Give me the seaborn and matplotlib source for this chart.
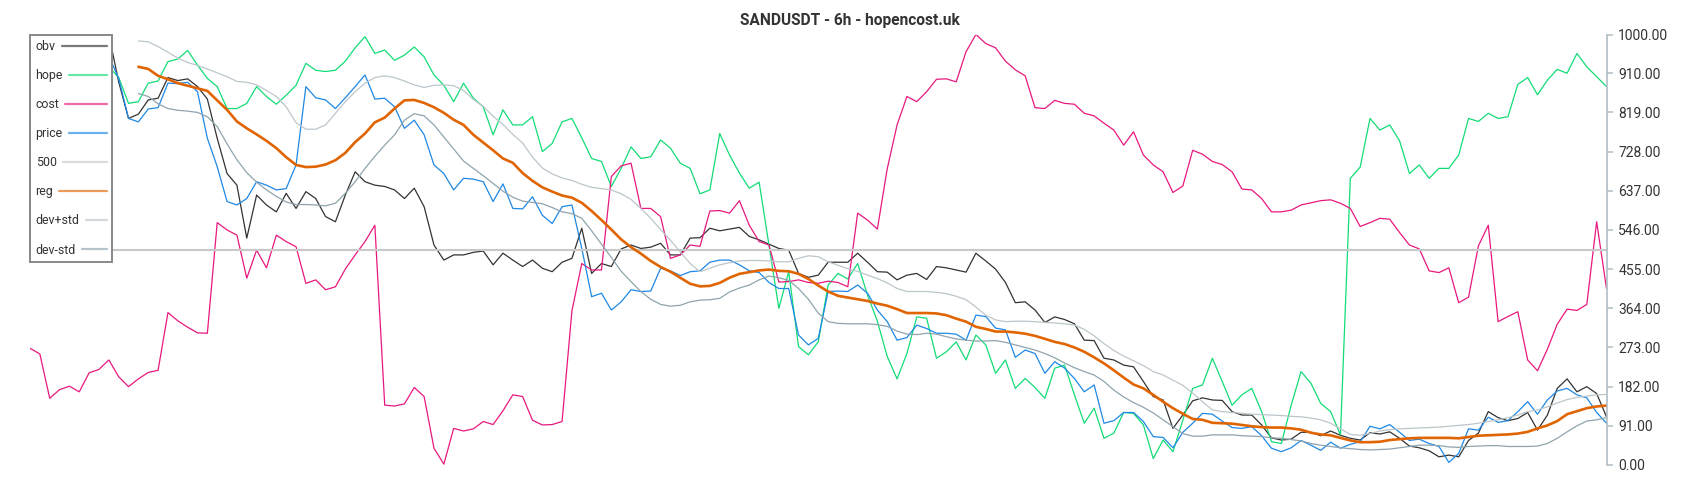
import numpy as np
import pandas as pd
import matplotlib
matplotlib.use("Agg")
import matplotlib.pyplot as plt
import seaborn as sns

# ---------------- data (normalised 0..1000, one value per step) ----------------
obv = [880, 900, 930, 915, 950, 970, 960, 985, 1000,
       890, 805, 815, 848, 852, 900, 893, 897, 879, 850, 759, 677, 650, 527, 627, 604, 588, 631, 596, 635,
       619, 577, 565, 627, 681, 658, 650, 647, 639,
       619, 643, 600, 511, 476, 488, 488, 494, 497, 465, 492, 476, 461, 476, 457, 449, 471, 480, 550, 445,
       468, 461, 502, 511, 503, 506, 515, 488, 488, 527, 528,
       550, 544, 548, 552, 531, 523, 513, 503, 499, 445, 436, 441, 471, 471, 471, 492, 471, 449, 448, 430,
       441, 445, 431, 461, 458, 453, 448, 492, 474, 455,
       424, 377, 379, 360, 331, 344, 338, 328, 290, 289, 248, 244, 232, 228, 194, 159, 151, 85, 116, 149,
       156, 151, 150, 124, 116, 116, 93, 63, 58, 60, 76,
       76, 68, 79, 69, 62, 58, 75, 72, 77, 62, 44, 40, 33, 19, 23, 19, 57, 74, 124, 110, 103, 108, 122, 81,
       116, 178, 200, 170, 182, 166, 112]

hope = [870, 890, 860, 900, 920, 880, 910, 940, 925,
        900, 840, 844, 887, 892, 937, 943, 963, 929, 898, 879, 828, 828, 840, 879, 856, 838, 859, 882, 933,
        917, 914, 917, 938, 969, 995, 956, 964, 940,
        952, 971, 948, 906, 882, 844, 887, 852, 832, 767, 825, 790, 790, 809, 728, 747, 797, 805, 760, 712,
        705, 647, 689, 739, 712, 716, 755, 736, 701, 689, 630,
        639, 770, 720, 678, 643, 657, 511, 364, 449, 275, 256, 286, 418, 445, 432, 468, 395, 334, 252, 200,
        259, 344, 341, 248, 263, 286, 244, 302, 279, 213,
        244, 178, 201, 180, 155, 225, 232, 163, 97, 132, 62, 74, 122, 120, 93, 15, 58, 31, 104, 178, 186,
        248, 194, 139, 163, 178, 124, 54, 50, 139, 217,
        190, 143, 124, 70, 666, 692, 805, 778, 790, 753, 677, 697, 666, 689, 689, 720, 805, 798, 817, 805,
        809, 884, 900, 860, 894, 919, 910, 956, 925, 902, 879]

cost = [271, 258, 155, 175, 183, 170, 214, 222, 244,
        205, 182, 200, 215, 220, 354, 335, 320, 307, 306, 563, 546, 534, 434, 499, 458, 534, 519, 507, 422,
        430, 407, 414, 455, 488, 519, 557, 139, 137,
        142, 180, 159, 39, 2, 85, 79, 84, 101, 94, 126, 163, 159, 104, 93, 94, 101, 358, 468, 453, 453, 670,
        695, 701, 596, 596, 577, 480, 488, 511, 508,
        590, 591, 585, 614, 557, 519, 511, 425, 426, 430, 424, 422, 427, 424, 414, 585, 569, 548, 688, 790,
        856, 844, 867, 896, 897, 890, 960, 1000, 979, 969,
        938, 918, 904, 830, 828, 847, 840, 838, 817, 811, 794, 778, 743, 774, 720, 697, 681, 633, 648, 731,
        722, 705, 698, 681, 641, 639, 619, 588, 588, 592, 604,
        609, 614, 616, 608, 596, 554, 563, 573, 571, 540, 511, 502, 451, 447, 458, 377, 390, 509, 557, 333,
        345, 356, 244, 219, 269, 327, 362, 359, 373, 565, 410]

price = [930, 950, 920, 960, 940, 970, 955, 945, 950,
         898, 805, 797, 827, 830, 887, 886, 889, 867, 759, 693, 612, 604, 619, 658, 650, 639, 642, 697, 879,
         853, 848, 828, 853, 879, 906, 850, 852, 832,
         782, 801, 767, 697, 677, 639, 666, 664, 658, 612, 653, 596, 595, 623, 580, 561, 600, 604, 503, 391,
         399, 360, 379, 407, 403, 404, 457, 451, 440, 449, 451,
         471, 476, 476, 465, 451, 447, 424, 410, 410, 302, 279, 294, 403, 404, 403, 418, 399, 360, 333, 290,
         296, 325, 317, 306, 306, 304, 290, 348, 345, 318,
         314, 250, 267, 259, 213, 240, 225, 201, 170, 186, 97, 103, 122, 122, 101, 66, 64, 40, 76, 97, 120,
         118, 102, 87, 85, 89, 68, 39, 31, 40, 57,
         46, 34, 53, 39, 48, 54, 90, 84, 94, 76, 57, 60, 50, 43, 6, 27, 84, 81, 111, 99, 103, 124, 147, 118,
         151, 172, 178, 163, 156, 122, 97]

NA = np.nan
reg = [NA] * 11 + [
    925, 920, 904, 896, 887, 881, 875, 869, 847, 825, 798, 782, 768, 753, 736, 715, 697, 692, 693, 698,
    708, 725, 750, 770, 796, 807, 828,
    847, 848, 841, 831, 818, 802, 790, 767, 749, 731, 712, 702, 678, 660, 645, 635, 626, 621, 609, 590,
    569, 547, 524, 506, 491, 474, 460, 449, 435, 421, 415,
    416, 423, 435, 444, 448, 452, 454, 451, 450, 444, 432, 417, 403, 393, 389, 385, 381, 375, 370, 362,
    353, 353, 353, 352, 348, 340, 333, 321, 316, 310,
    310, 308, 305, 300, 293, 286, 281, 273, 263, 250, 236, 220, 203, 187, 178, 163, 147, 132, 119, 107,
    105, 98, 97, 96, 93, 90, 88, 87, 87, 85, 82,
    75, 71, 69, 63, 57, 53, 53, 54, 58, 60, 62, 63, 63, 63, 63, 62, 65, 68, 69, 70, 71, 73, 77, 85, 92,
    102, 118, 125, 132, 136, 138]

dev_plus_std = [NA] * 11 + [
    985, 983, 972, 959, 945, 935, 928, 920, 911, 902, 891, 889, 883, 870, 856, 832, 795, 780, 780, 790,
    817, 844, 867, 887, 900, 904, 900,
    892, 883, 877, 882, 883, 881, 870, 849, 833, 810, 791, 768, 748, 715, 690, 676, 667, 661, 652, 645,
    642, 639, 630, 617, 596, 573, 547, 522, 495, 468, 449,
    457, 465, 470, 474, 475, 475, 474, 472, 472, 480, 486, 484, 472, 464, 456, 450, 441, 433, 423, 410,
    403, 403, 403, 401, 398, 392, 384, 367, 348, 337,
    333, 334, 334, 333, 331, 330, 328, 325, 315, 300, 282, 266, 253, 242, 231, 217, 209, 197, 185, 167,
    147, 128, 124, 122, 120, 118, 117, 116, 115, 113, 112,
    109, 105, 97, 84, 71, 69, 73, 79, 82, 84, 85, 86, 87, 88, 90, 92, 94, 97, 101, 105, 110, 116, 124,
    128, 135, 144, 152, 157, 160, 163, 164]

dev_minus_std = [NA] * 11 + [
    863, 856, 839, 828, 824, 822, 819, 809, 786, 746, 709, 679, 657, 639, 624, 611, 605, 605, 604, 602,
    608, 631, 658, 689, 717, 743, 767,
    801, 816, 811, 790, 762, 734, 706, 689, 672, 654, 636, 622, 613, 610, 607, 598, 588, 584, 573, 544,
    513, 482, 450, 426, 403, 385, 373, 369, 371, 379, 383,
    384, 387, 402, 411, 418, 430, 439, 435, 429, 410, 385, 353, 333, 329, 328, 328, 328, 326, 322, 311,
    304, 303, 306, 304, 298, 293, 290, 288, 288, 289,
    285, 279, 273, 267, 259, 249, 237, 226, 217, 209, 194, 174, 158, 145, 134, 121, 105, 89, 73, 67, 67,
    70, 70, 70, 68, 67, 66, 63, 62, 59, 56,
    50, 46, 43, 40, 38, 36, 35, 36, 37, 40, 43, 46, 46, 45, 42, 41, 43, 44, 45, 45, 43, 43, 43, 44, 50,
    62, 77, 91, 102, 105, 110]

level_500 = 500
y_ticks = [0, 91, 182, 273, 364, 455, 546, 637, 728, 819, 910, 1000]
title_text = "SANDUSDT - 6h - hopencost.uk"

series = [
    ("obv", obv, "#333333", 0.9),
    ("hope", hope, "#12dc76", 0.9),
    ("cost", cost, "#e8187e", 0.9),
    ("price", price, "#1e88e5", 0.9),
]
bands = [
    ("reg", reg, "#e06400", 1.9),
    ("dev+std", dev_plus_std, "#bcc6cb", 0.9),
    ("dev-std", dev_minus_std, "#90a4ae", 0.9),
]

n = len(obv)
df = pd.DataFrame({"x": np.arange(n)})
for name, vals, _, _ in series + bands:
    df[name] = vals

# ---------------- figure ----------------
sns.set_style("white")
plt.rcParams["font.family"] = ["Roboto", "DejaVu Sans"]

fig = plt.figure(figsize=(17, 5), dpi=100)
ax = fig.add_axes([30 / 1700, 35 / 500, 1576.5 / 1700, 430.5 / 500])

handles = {}
for name, vals, color, lw in series:
    sns.lineplot(data=df, x="x", y=name, ax=ax, color=color, linewidth=lw,
                 estimator=None, errorbar=None, sort=False, label=name, legend=False)
    handles[name] = ax.lines[-1]
h500 = ax.axhline(level_500, color="#c8c8c8", linewidth=1.5, label="500", zorder=2)
handles["500"] = h500
for name, vals, color, lw in bands:
    sub = df[["x", name]].dropna()
    sns.lineplot(data=sub, x="x", y=name, ax=ax, color=color, linewidth=lw,
                 estimator=None, errorbar=None, sort=False, label=name, legend=False)
    handles[name] = ax.lines[-1]

ax.set_xlim(0, n - 1)
ax.set_ylim(0, 1000)
ax.set_xlabel("")
ax.set_ylabel("")
ax.set_xticks([])
ax.yaxis.tick_right()
ax.set_yticks(y_ticks)
ax.set_yticklabels([f"{v:.2f}" for v in y_ticks])
ax.tick_params(axis="y", which="both", right=True, left=False, length=4, width=1.1,
               color="#b0bec5", labelcolor="#333333", labelsize=10, pad=4.5)
for side in ["left", "top", "bottom"]:
    ax.spines[side].set_visible(False)
ax.spines["right"].set_visible(True)
ax.spines["right"].set_color("#b0bec5")
ax.spines["right"].set_linewidth(1.2)

fig.text(0.5, 1 - 20.5 / 500, title_text, ha="center", va="center",
         fontsize=11.2, fontweight="semibold", color="#333333")

order = ["obv", "hope", "cost", "price", "500", "reg", "dev+std", "dev-std"]
leg = ax.legend([handles[k] for k in order], order, loc="upper left",
                bbox_to_anchor=(0, 1), borderaxespad=0, markerfirst=False,
                fontsize=8.9, handlelength=1.7, handletextpad=0.5, labelspacing=1.3,
                borderpad=0.45, fancybox=False, frameon=True, framealpha=1,
                edgecolor="#888888", facecolor="white", labelcolor="#333333")
leg.get_frame().set_linewidth(1.4)
for lh in leg.get_lines():
    lh.set_linewidth(1.6)
    lh.set_alpha(0.65)

# left-align labels, right-align the handles, and stretch each handle back to its label
fig.canvas.draw()
renderer = fig.canvas.get_renderer()
widths = [t.get_window_extent(renderer).width for t in leg.get_texts()]
maxw = max(widths)
px2pt = 72.0 / fig.dpi
base_sep = leg.handletextpad * leg._fontsize
try:
    col = leg._legend_handle_box.get_children()[0]
    rows = col.get_children()
    for row, w, line in zip(rows, widths, leg.legend_handles):
        extra = (maxw - w) * px2pt
        row.sep = base_sep + extra
        xd = np.asarray(line.get_xdata(), dtype=float)
        line.set_xdata(np.linspace(xd[0] - extra, xd[-1], len(xd)))
except Exception:
    pass

fig.savefig("out.png", dpi=100, facecolor="white")
